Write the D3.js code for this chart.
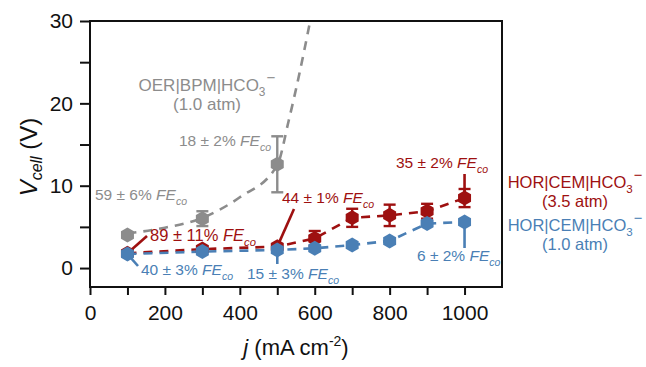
<!DOCTYPE html>
<html>
<head>
<meta charset="utf-8">
<script src="https://cdn.jsdelivr.net/npm/d3@7.9.0/dist/d3.min.js"></script>
<style>
  body { margin: 0; background: #fff; }
  text { font-family: "Liberation Sans", Arial, sans-serif; }
</style>
</head>
<body>
<svg id="chart" width="646" height="367"></svg>
<script>
// current density (mA cm-2)
const jGrey = [100, 300, 500];
const vGrey = [4.0, 6.0, 12.6];
const errGrey = [0, 0.9, 3.4];

// dashed guide through the OER points
const fitGreyJ = [100, 200, 300, 400, 500, 530, 560, 590];
const fitGreyV = [4.2, 4.9, 6.1, 8.6, 12.5, 17.8, 23.8, 30.5];

const jRed = [100, 300, 500, 600, 700, 800, 900, 1000];
const vRed = [1.8, 2.3, 2.6, 3.6, 6.1, 6.4, 6.9, 8.5];
const errRed = [0, 0, 0, 0.9, 1.1, 1.3, 0.9, 1.1];

const jBlue = [100, 300, 500, 600, 700, 800, 900, 1000];
const vBlue = [1.7, 2.0, 2.2, 2.4, 2.8, 3.3, 5.4, 5.6];

const xTicks = [0, 200, 400, 600, 800, 1000];
const yTicks = [0, 10, 20, 30];

const grey = '#8c8c8c', red = '#9e1010', blue = '#4a7fb5';

const svg = d3.select('#chart');
const m = { left: 90, right: 144, top: 21, bottom: 80 };
const W = 646, H = 367;

const x = d3.scaleLinear().domain([0, 1100]).range([m.left, W - m.right]);
const y = d3.scaleLinear().domain([-2.3, 30]).range([H - m.bottom, m.top]);

svg.append('defs').append('clipPath').attr('id', 'clip')
  .append('rect').attr('x', m.left).attr('y', m.top)
  .attr('width', W - m.left - m.right).attr('height', H - m.top - m.bottom);

// axes
const xAxis = svg.append('g').attr('transform', `translate(0,${H - m.bottom})`)
  .call(d3.axisBottom(x).tickValues(d3.range(0, 1100, 100)).tickSize(8).tickPadding(10)
    .tickFormat(d => xTicks.includes(d) ? d : ''));
const yAxis = svg.append('g').attr('transform', `translate(${m.left},0)`)
  .call(d3.axisLeft(y).tickValues([0, 5, 10, 15, 20, 25, 30]).tickSize(10).tickPadding(7)
    .tickFormat(d => yTicks.includes(d) ? d : ''));
[xAxis, yAxis].forEach(g => {
  g.select('.domain').remove();
  g.selectAll('line').attr('stroke', '#111').attr('stroke-width', 2);
  g.selectAll('text').attr('font-size', 21).attr('fill', '#111')
    .style('font-family', '"Liberation Sans", Arial, sans-serif');
});

// frame
svg.append('rect').attr('x', m.left).attr('y', m.top)
  .attr('width', W - m.left - m.right).attr('height', H - m.top - m.bottom)
  .attr('fill', 'none').attr('stroke', '#111').attr('stroke-width', 2);

const plot = svg.append('g').attr('clip-path', 'url(#clip)');

const line = d3.line().x(d => x(d[0])).y(d => y(d[1]));

// lines
plot.append('path').datum(d3.zip(fitGreyJ, fitGreyV))
  .attr('d', line.curve(d3.curveMonotoneX))
  .attr('fill', 'none').attr('stroke', grey).attr('stroke-width', 2.6)
  .attr('stroke-dasharray', '9,7');
line.curve(d3.curveLinear);
plot.append('path').datum(d3.zip(jRed, vRed)).attr('d', line)
  .attr('fill', 'none').attr('stroke', red).attr('stroke-width', 2.6)
  .attr('stroke-dasharray', '9,7');
plot.append('path').datum(d3.zip(jBlue, vBlue)).attr('d', line)
  .attr('fill', 'none').attr('stroke', blue).attr('stroke-width', 2.6)
  .attr('stroke-dasharray', '9,7');

// leader lines (from points to their labels)
const leaders = [
  [red, 100, vRed[0], 147, 236],
  [red, 500, vRed[2], 294, 209],
  [red, 1000, vRed[7], null, 174],
  [blue, 100, vBlue[0], 138, 266],
  [blue, 500, vBlue[2], null, 264],
  [blue, 1000, vBlue[7], null, 248]
];
leaders.forEach(([c, j, v, px, py]) => {
  svg.append('line').attr('x1', x(j)).attr('y1', y(v))
    .attr('x2', px === null ? x(j) : px).attr('y2', py)
    .attr('stroke', c).attr('stroke-width', 2.6);
});

function hex(r) {
  const pts = d3.range(6).map(k => {
    const a = Math.PI / 3 * k - Math.PI / 2;
    return [r * Math.cos(a), r * Math.sin(a)];
  });
  return 'M' + pts.join('L') + 'Z';
}

function drawSeries(js, vs, errs, c) {
  const g = svg.append('g');
  js.forEach((j, i) => {
    const e = errs ? errs[i] : 0;
    if (e > 0) {
      g.append('line').attr('x1', x(j)).attr('x2', x(j))
        .attr('y1', y(vs[i] - e)).attr('y2', y(vs[i] + e))
        .attr('stroke', c).attr('stroke-width', 2.4);
      [vs[i] - e, vs[i] + e].forEach(v => {
        g.append('line').attr('x1', x(j) - 6).attr('x2', x(j) + 6)
          .attr('y1', y(v)).attr('y2', y(v))
          .attr('stroke', c).attr('stroke-width', 2.4);
      });
    }
    g.append('path').attr('d', hex(7.5))
      .attr('transform', `translate(${x(j)},${y(vs[i])})`)
      .attr('fill', c);
  });
}
drawSeries(jGrey, vGrey, errGrey, grey);
drawSeries(jRed, vRed, errRed, red);
drawSeries(jBlue, vBlue, null, blue);

// FE annotations
function feLabel(px, py, pct, c, size = 15.5) {
  const t = svg.append('text').attr('x', px).attr('y', py)
    .attr('fill', c).attr('font-size', size);
  t.append('tspan').text(pct + ' ');
  t.append('tspan').attr('font-style', 'italic').text('FE');
  t.append('tspan').attr('font-style', 'italic').attr('font-size', size * 0.68)
    .attr('dy', 5).text('co');
}
feLabel(95, 200, '59 ± 6%', grey);
feLabel(179, 146, '18 ± 2%', grey);
feLabel(150, 241, '89 ± 11%', red, 16.5);
feLabel(282, 203, '44 ± 1%', red);
feLabel(396, 168, '35 ± 2%', red);
feLabel(141, 275, '40 ± 3%', blue);
feLabel(247, 279, '15 ± 3%', blue);
feLabel(417, 261, '6 ± 2%', blue);

// series names
function nameLabel(cx, by, head, atm, c, size) {
  const t = svg.append('text').attr('x', cx).attr('y', by)
    .attr('fill', c).attr('font-size', size).attr('text-anchor', 'middle');
  t.append('tspan').text(head);
  t.append('tspan').attr('font-size', size * 0.7).attr('dy', 5).text('3');
  t.append('tspan').attr('font-size', size * 0.9).attr('dy', -13).attr('dx', 1).text('−');
  svg.append('text').attr('x', cx).attr('y', by + 19)
    .attr('fill', c).attr('font-size', size).attr('text-anchor', 'middle').text(atm);
}
nameLabel(207, 91, 'OER|BPM|HCO', '(1.0 atm)', grey, 17);
nameLabel(575, 188, 'HOR|CEM|HCO', '(3.5 atm)', red, 16.5);
nameLabel(575, 231, 'HOR|CEM|HCO', '(1.0 atm)', blue, 16.5);

// axis titles
const yt = svg.append('text').attr('transform', 'translate(37,157) rotate(-90)')
  .attr('text-anchor', 'middle').attr('font-size', 24).attr('fill', '#111');
yt.append('tspan').attr('font-style', 'italic').text('V');
yt.append('tspan').attr('font-style', 'italic').attr('font-size', 16).attr('dy', 5).text('cell');
yt.append('tspan').attr('dy', -5).text(' (V)');

const xt = svg.append('text').attr('x', 296).attr('y', 355)
  .attr('text-anchor', 'middle').attr('font-size', 22).attr('fill', '#111');
xt.append('tspan').attr('font-style', 'italic').text('j');
xt.append('tspan').text(' (mA cm');
xt.append('tspan').attr('font-size', 14).attr('dy', -9).text('-2');
xt.append('tspan').attr('dy', 9).text(')');
</script>
</body>
</html>
